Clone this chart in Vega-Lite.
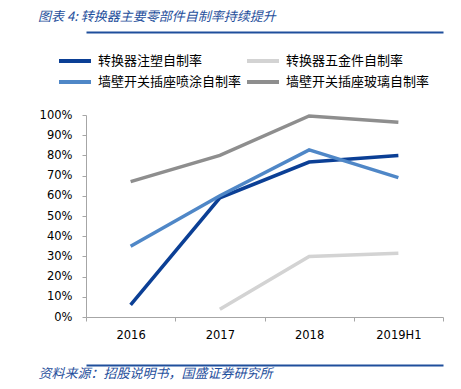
{
  "$schema": "https://vega.github.io/schema/vega-lite/v6.json",
  "autosize": "none",
  "padding": {"left": 86, "top": 115, "right": 18, "bottom": 72},
  "width": 357,
  "height": 202,
  "background": "white",
  "title": {
    "text": "图表 4:  转换器主要零部件自制率持续提升",
    "anchor": "start",
    "frame": "group",
    "dx": -48,
    "offset": 8,
    "font": "Noto Sans CJK SC",
    "fontSize": 13,
    "fontStyle": "italic",
    "fontWeight": "normal",
    "color": "#1f4f9c"
  },
  "data": {
    "values": [
      {"year": "2016", "series": "转换器注塑自制率", "v": 0.06},
      {"year": "2017", "series": "转换器注塑自制率", "v": 0.59},
      {"year": "2018", "series": "转换器注塑自制率", "v": 0.767},
      {"year": "2019H1", "series": "转换器注塑自制率", "v": 0.80},
      {"year": "2017", "series": "转换器五金件自制率", "v": 0.038},
      {"year": "2018", "series": "转换器五金件自制率", "v": 0.30},
      {"year": "2019H1", "series": "转换器五金件自制率", "v": 0.315},
      {"year": "2016", "series": "墙壁开关插座喷涂自制率", "v": 0.35},
      {"year": "2017", "series": "墙壁开关插座喷涂自制率", "v": 0.60},
      {"year": "2018", "series": "墙壁开关插座喷涂自制率", "v": 0.827},
      {"year": "2019H1", "series": "墙壁开关插座喷涂自制率", "v": 0.69},
      {"year": "2016", "series": "墙壁开关插座玻璃自制率", "v": 0.67},
      {"year": "2017", "series": "墙壁开关插座玻璃自制率", "v": 0.80},
      {"year": "2018", "series": "墙壁开关插座玻璃自制率", "v": 0.995},
      {"year": "2019H1", "series": "墙壁开关插座玻璃自制率", "v": 0.964}
    ]
  },
  "layer": [
    {
      "mark": {"type": "line", "strokeWidth": 3.5, "strokeCap": "butt"},
      "encoding": {
        "x": {
          "field": "year",
          "type": "ordinal",
          "bandPosition": 0.5,
          "scale": {"type": "band", "paddingInner": 0, "paddingOuter": 0},
          "axis": {
            "title": "资料来源：招股说明书，国盛证券研究所",
            "titleFont": "Noto Sans CJK SC",
            "titleFontSize": 13,
            "titleFontStyle": "italic",
            "titleFontWeight": "normal",
            "titleColor": "#1f4f9c",
            "titleAnchor": "start",
            "titleAlign": "left",
            "titleBaseline": "middle",
            "titleX": -48,
            "titleY": 56,
            "labelAngle": 0,
            "labelFont": "DejaVu Sans",
            "labelFontSize": 11.5,
            "labelColor": "#000000",
            "labelPadding": 8,
            "tickBand": "extent",
            "tickSize": 4,
            "tickColor": "#a6a6a6",
            "domainColor": "#a6a6a6",
            "grid": false
          }
        },
        "y": {
          "field": "v",
          "type": "quantitative",
          "scale": {"domain": [0, 1], "nice": false},
          "axis": {
            "title": null,
            "format": ".0%",
            "values": [0, 0.1, 0.2, 0.3, 0.4, 0.5, 0.6, 0.7, 0.8, 0.9, 1],
            "labelOverlap": false,
            "labelFont": "DejaVu Sans",
            "labelFontSize": 11.5,
            "labelColor": "#000000",
            "labelPadding": 10,
            "tickSize": 4,
            "tickColor": "#a6a6a6",
            "domainColor": "#a6a6a6",
            "grid": false
          }
        },
        "color": {
          "field": "series",
          "type": "nominal",
          "sort": ["转换器注塑自制率", "墙壁开关插座喷涂自制率", "转换器五金件自制率", "墙壁开关插座玻璃自制率"],
          "scale": {
            "domain": ["转换器注塑自制率", "墙壁开关插座喷涂自制率", "转换器五金件自制率", "墙壁开关插座玻璃自制率"],
            "range": ["#0b3f95", "#4f87c7", "#d3d3d3", "#8e8e8e"]
          },
          "legend": {
            "title": null,
            "orient": "none",
            "legendX": -23,
            "legendY": -66,
            "columns": 2,
            "columnPadding": -3,
            "rowPadding": 1,
            "symbolType": "M-1.6,0H1.6",
            "symbolSize": 400,
            "symbolStrokeWidth": 4,
            "symbolFillColor": "transparent",
            "labelFont": "Noto Sans CJK SC",
            "labelFontSize": 13,
            "labelColor": "#000000",
            "labelOffset": 11
          }
        }
      }
    },
    {
      "mark": {"type": "line", "opacity": 0},
      "encoding": {
        "x": {
          "field": "year",
          "type": "ordinal",
          "bandPosition": 0.5,
          "axis": {
            "orient": "top",
            "offset": 83,
            "title": null,
            "labels": false,
            "ticks": false,
            "domainColor": "#1f4f9c",
            "domainWidth": 2,
            "grid": false
          }
        }
      }
    },
    {
      "mark": {"type": "line", "opacity": 0},
      "encoding": {
        "x": {
          "field": "year",
          "type": "ordinal",
          "bandPosition": 0.5,
          "axis": {
            "orient": "bottom",
            "offset": 48,
            "title": null,
            "labels": false,
            "ticks": false,
            "domainColor": "#1f4f9c",
            "domainWidth": 2,
            "grid": false
          }
        }
      }
    }
  ],
  "resolve": {"axis": {"x": "independent"}},
  "config": {"view": {"stroke": null}}
}
